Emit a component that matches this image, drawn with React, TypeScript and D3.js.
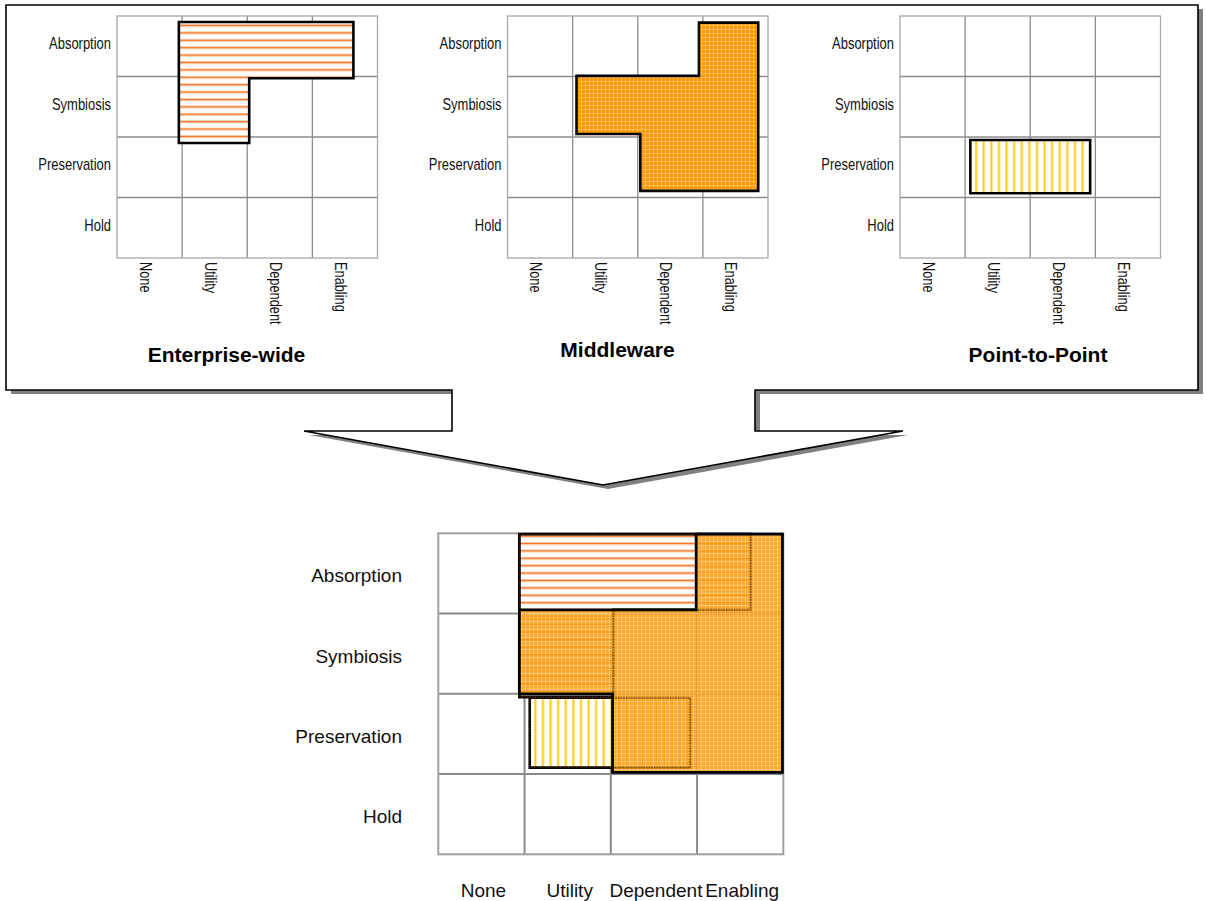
import React from "react";
import * as d3 from "d3";

// ---------- data ----------
const rowCategories = ["Absorption", "Symbiosis", "Preservation", "Hold"];
const columnCategories = ["None", "Utility", "Dependent", "Enabling"];
const panelTitles = ["Enterprise-wide", "Middleware", "Point-to-Point"];

// outlines of each integration style, in (column, row) category units
const enterpriseShape: [number, number][] = [
  [0.95, 0.1], [3.63, 0.1], [3.63, 1.03], [2.03, 1.03], [2.03, 2.1], [0.95, 2.1],
];
const middlewareShape: [number, number][] = [
  [2.94, 0.11], [3.85, 0.11], [3.85, 2.89], [2.04, 2.89], [2.04, 1.95], [1.06, 1.95], [1.06, 0.99], [2.94, 0.99],
];
const pointToPointShape: [number, number][] = [
  [1.08, 2.05], [2.92, 2.05], [2.92, 2.93], [1.08, 2.93],
];

// the combined picture
const enterpriseCombined: [number, number][] = [
  [0.94, 0.01], [3.62, 0.01], [3.62, 0.955], [2.03, 0.955], [2.03, 2.04], [0.94, 2.04],
];
const middlewareCombined: [number, number][] = [
  [2.99, 0.01], [3.99, 0.01], [3.99, 2.98], [2.02, 2.98], [2.02, 2.0], [0.94, 2.0], [0.94, 0.955], [2.99, 0.955],
];
const pointToPointCombined: [number, number][] = [
  [1.06, 2.05], [2.92, 2.05], [2.92, 2.92], [1.06, 2.92],
];

// ---------- layout ----------
const W = 1207;
const H = 901;
const FONT = "'Liberation Sans', Arial, Helvetica, sans-serif";

const panelLeft = [117, 507.5, 900];
const panelTop = 16;
const panelW = 260.5;
const panelH = 242;
const titleX = [226.5, 617.5, 1038];
const titleY = [361.7, 357, 362];

const big = { x: 438.3, y: 533.3, w: 345, h: 321 };

const callout: [number, number][] = [
  [6, 5], [1198, 5], [1198, 390], [755, 390], [755, 431], [903, 431], [603, 485],
  [304, 431], [452, 431], [452, 390], [6, 390],
];

function Grid({ x0, y0, w, h, inner, outer, sw }: any) {
  const xs = d3.scaleLinear().domain([0, 4]).range([x0, x0 + w]);
  const ys = d3.scaleLinear().domain([0, 4]).range([y0, y0 + h]);
  return (
    <g>
      {d3.range(1, 4).map((i) => (
        <line key={"v" + i} x1={xs(i)} x2={xs(i)} y1={y0} y2={y0 + h} stroke={inner} strokeWidth={sw} />
      ))}
      {d3.range(1, 4).map((i) => (
        <line key={"h" + i} y1={ys(i)} y2={ys(i)} x1={x0} x2={x0 + w} stroke={inner} strokeWidth={sw} />
      ))}
      <rect x={x0} y={y0} width={w} height={h} fill="none" stroke={outer} strokeWidth={sw} />
    </g>
  );
}

function shapePath(pts: [number, number][], x0: number, y0: number, w: number, h: number) {
  const xs = d3.scaleLinear().domain([0, 4]).range([x0, x0 + w]);
  const ys = d3.scaleLinear().domain([0, 4]).range([y0, y0 + h]);
  const line = d3.line<[number, number]>().x((d) => xs(d[0])).y((d) => ys(d[1]));
  return line(pts) + "Z";
}

export default function App() {
  const topShapes = [
    { pts: enterpriseShape, fill: "url(#hStripes)" },
    { pts: middlewareShape, fill: "url(#mesh)" },
    { pts: pointToPointShape, fill: "url(#vStripes)" },
  ];
  const calloutPath = d3.line()(callout) + "Z";

  const bigX = d3.scaleBand<string>().domain(columnCategories).range([big.x, big.x + big.w]);
  const bigY = d3.scaleBand<string>().domain(rowCategories).range([big.y, big.y + big.h]);

  const entBig = shapePath(enterpriseCombined, big.x, big.y, big.w, big.h);
  const midBig = shapePath(middlewareCombined, big.x, big.y, big.w, big.h);
  const p2pBig = shapePath(pointToPointCombined, big.x, big.y, big.w, big.h);

  return (
    <svg width={W} height={H} style={{ position: "absolute", left: 0, top: 0, background: "#fff" }} fontFamily={FONT}>
      <defs>
        <pattern id="hStripes" patternUnits="userSpaceOnUse" width="8" height="7.4">
          <rect width="8" height="7.4" fill="#fff" />
          <rect y="2.4" width="8" height="1.8" fill="#F37321" />
          <rect y="4.2" width="8" height="0.8" fill="#FBD3B4" />
        </pattern>
        <pattern id="vStripes" patternUnits="userSpaceOnUse" width="7.6" height="8">
          <rect width="7.6" height="8" fill="#fff" />
          <rect x="2.4" width="1.8" height="8" fill="#FFC600" />
          <rect x="4.2" width="0.8" height="8" fill="#FFE58A" />
        </pattern>
        <pattern id="mesh" patternUnits="userSpaceOnUse" width="4" height="4">
          <rect width="4" height="4" fill="#FF9806" />
          <rect x="1" width="1" height="4" fill="#FFB84C" />
          <rect y="1" width="4" height="1" fill="#FFB84C" />
          <rect x="1" y="1" width="1" height="1" fill="#FFD288" />
        </pattern>
      </defs>

      {/* callout box with arrow */}
      <path d={calloutPath} transform="translate(5,4)" fill="#808080" />
      <path d={calloutPath} fill="#fff" stroke="#000" strokeWidth={1.6} strokeLinejoin="miter" />

      {/* three small panels */}
      {panelTitles.map((title, p) => {
        const x0 = panelLeft[p];
        const bx = d3.scaleBand<string>().domain(columnCategories).range([x0, x0 + panelW]);
        const by = d3.scaleBand<string>().domain(rowCategories).range([panelTop, panelTop + panelH]);
        return (
          <g key={title}>
            <Grid x0={x0} y0={panelTop} w={panelW} h={panelH} inner="#8c8c8c" outer="#a8a8a8" sw={1.3} />
            <path
              d={shapePath(topShapes[p].pts, x0, panelTop, panelW, panelH)}
              fill={topShapes[p].fill}
              stroke="#000"
              strokeWidth={2.6}
            />
            {rowCategories.map((r) => (
              <text
                key={r}
                transform={`translate(${x0 - 6},${(by(r) as number) + by.bandwidth() / 2 + 3}) scale(0.81,1)`}
                textAnchor="end"
                fontSize={16}
                fill="#111"
              >
                {r}
              </text>
            ))}
            {columnCategories.map((c) => (
              <text
                key={c}
                transform={`translate(${(bx(c) as number) + bx.bandwidth() / 2 - 4.5},262) rotate(90) scale(0.8,1)`}
                textAnchor="start"
                dominantBaseline="central"
                fontSize={16}
                fill="#111"
              >
                {c}
              </text>
            ))}
            <text x={titleX[p]} y={titleY[p]} textAnchor="middle" fontSize={21} fontWeight="bold" fill="#000">
              {title}
            </text>
          </g>
        );
      })}

      {/* combined grid */}
      <Grid x0={big.x} y0={big.y} w={big.w} h={big.h} inner="#8a8a8a" outer="#a0a0a0" sw={2} />
      <path d={entBig} fill="url(#hStripes)" stroke="#000" strokeWidth={2.8} />
      <path d={p2pBig} fill="url(#vStripes)" stroke="#000" strokeWidth={2.6} />
      <path d={midBig} fill="url(#mesh)" fillOpacity={0.84} />
      <path d={entBig} fill="none" stroke="#5a3000" strokeWidth={1.3} strokeDasharray="1.2 1.4" opacity={0.85} />
      <path d={p2pBig} fill="none" stroke="#5a3000" strokeWidth={1.3} strokeDasharray="1.2 1.4" opacity={0.85} />
      <path d={midBig} fill="none" stroke="#000" strokeWidth={2.8} />

      {rowCategories.map((r) => (
        <text
          key={r}
          x={402}
          y={(bigY(r) as number) + bigY.bandwidth() / 2 + 9}
          textAnchor="end"
          fontSize={19}
          fill="#111"
        >
          {r}
        </text>
      ))}
      {columnCategories.map((c) => (
        <text
          key={c}
          x={(bigX(c) as number) + bigX.bandwidth() / 2 + 2}
          y={897}
          textAnchor="middle"
          fontSize={19}
          fill="#111"
        >
          {c}
        </text>
      ))}
    </svg>
  );
}
